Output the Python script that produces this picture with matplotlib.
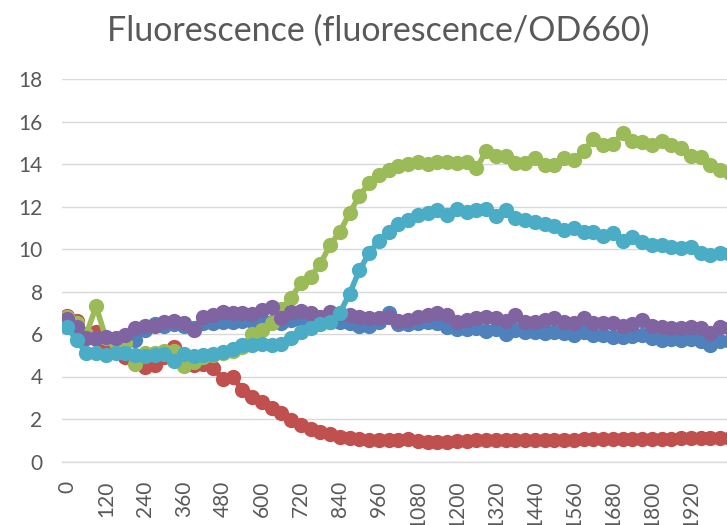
import numpy as np
import matplotlib
matplotlib.use("Agg")
import matplotlib.pyplot as plt

# time in minutes, one reading every 30 min
minutes = list(range(0, 2041, 30))
tick_labels = [str(m) for m in range(0, 1921, 120)]

series_1 = [6.6, 6.4, 5.8, 5.75, 5.7, 5.75, 5.75, 5.7, 6.2, 6.45,
            6.4, 6.45, 6.4, 6.3, 6.5, 6.5, 6.55, 6.55, 6.6, 6.6,
            6.6, 6.55, 6.5, 6.65, 6.65, 6.55, 6.55, 6.55, 6.55, 6.5,
            6.4, 6.4, 6.55, 7.0, 6.45, 6.45, 6.5, 6.55, 6.5, 6.35,
            6.25, 6.25, 6.3, 6.15, 6.25, 6.0, 6.2, 6.1, 6.1, 6.05,
            6.1, 6.05, 5.95, 6.1, 5.95, 5.95, 5.85, 5.87, 5.9, 5.95,
            5.8, 5.7, 5.75, 5.7, 5.75, 5.65, 5.5, 5.65, 5.65]
series_2 = [6.85, 6.6, 5.9, 6.1, 5.6, 5.4, 4.9, 4.9, 4.45, 4.55,
            4.9, 5.4, 4.7, 4.55, 4.6, 4.4, 3.9, 4.0, 3.35, 3.05,
            2.8, 2.5, 2.3, 1.95, 1.7, 1.55, 1.4, 1.3, 1.15, 1.1,
            1.05, 1.0, 1.0, 1.0, 1.0, 1.05, 0.95, 0.9, 0.9, 0.92,
            0.95, 0.95, 1.0, 1.0, 1.0, 1.0, 1.0, 1.0, 1.0, 1.02,
            1.02, 1.03, 1.03, 1.04, 1.04, 1.05, 1.05, 1.06, 1.06, 1.07,
            1.07, 1.08, 1.08, 1.09, 1.09, 1.1, 1.1, 1.1, 1.1]
series_3 = [6.8, 6.5, 6.0, 7.3, 5.8, 5.6, 5.6, 4.6, 5.1, 5.1,
            5.2, 5.2, 4.5, 4.7, 4.9, 5.0, 5.1, 5.2, 5.4, 6.0,
            6.2, 6.5, 7.2, 7.7, 8.4, 8.7, 9.3, 10.2, 10.8, 11.7,
            12.5, 13.1, 13.5, 13.7, 13.9, 14.0, 14.1, 14.0, 14.1, 14.1,
            14.05, 14.1, 13.8, 14.6, 14.4, 14.4, 14.05, 14.05, 14.3, 13.95,
            13.95, 14.3, 14.2, 14.6, 15.2, 14.9, 14.95, 15.45, 15.1, 15.05,
            14.9, 15.1, 14.9, 14.75, 14.4, 14.35, 13.95, 13.7, 13.6]
series_4 = [6.7, 6.35, 5.8, 5.8, 5.85, 5.8, 5.95, 6.3, 6.4, 6.4,
            6.55, 6.6, 6.5, 6.2, 6.8, 6.9, 7.05, 7.0, 7.0, 6.95,
            7.15, 7.25, 6.75, 7.05, 7.1, 7.0, 6.8, 7.05, 6.95, 6.9,
            6.8, 6.75, 6.75, 6.8, 6.6, 6.65, 6.8, 6.9, 7.0, 6.9,
            6.55, 6.65, 6.75, 6.8, 6.75, 6.6, 6.9, 6.57, 6.55, 6.65,
            6.75, 6.57, 6.5, 6.75, 6.5, 6.5, 6.5, 6.4, 6.45, 6.65,
            6.4, 6.35, 6.3, 6.3, 6.35, 6.3, 6.05, 6.35, 6.3]
series_5 = [6.35, 5.7, 5.1, 5.1, 5.0, 5.1, 5.1, 5.0, 4.95, 5.0,
            5.05, 4.75, 5.05, 4.95, 5.0, 5.05, 5.15, 5.3, 5.5, 5.5,
            5.55, 5.5, 5.55, 5.8, 6.1, 6.3, 6.45, 6.55, 7.0, 7.9,
            9.0, 9.8, 10.4, 10.8, 11.2, 11.35, 11.6, 11.7, 11.85, 11.6,
            11.9, 11.75, 11.85, 11.9, 11.55, 11.85, 11.45, 11.35, 11.25, 11.2,
            11.1, 10.9, 11.0, 10.8, 10.8, 10.6, 10.75, 10.4, 10.55, 10.35,
            10.2, 10.2, 10.1, 10.05, 10.1, 9.8, 9.7, 9.8, 9.75]

colors = ["#4F81BD", "#C0504D", "#9BBB59", "#8064A2", "#4BACC6"]
text_color = "#595959"

plt.rcParams["font.family"] = ["Lato", "DejaVu Sans"]

fig = plt.figure(figsize=(7.27, 5.25), dpi=100)
ax = fig.add_axes([62 / 727, 1 - 461.5 / 525, 1 - 62 / 727, (461.5 - 79) / 525])

for values, color in zip([series_1, series_2, series_3, series_4, series_5], colors):
    ax.plot(minutes, values, color=color, linewidth=4.0, marker="o",
            markersize=11, markeredgewidth=0)

ax.set_xlim(-15, 2031)
ax.set_ylim(0, 18)
ax.set_yticks(np.arange(0, 19, 2))
ax.set_xticks(range(0, 1921, 120))
ax.set_xticklabels(tick_labels, rotation=90)
ax.grid(axis="y", color="#D9D9D9", linewidth=1.0)
ax.set_axisbelow(True)
for side in ["top", "right", "left"]:
    ax.spines[side].set_visible(False)
ax.spines["bottom"].set_color("#D9D9D9")
ax.spines["bottom"].set_linewidth(1.0)
ax.tick_params(length=0, labelsize=15, labelcolor=text_color)
ax.tick_params(axis="y", pad=14)
ax.tick_params(axis="x", pad=14)

fig.text(378 / 727, 1 - 31 / 525, "Fluorescence (fluorescence/OD660)",
         ha="center", va="center", fontsize=24.5, color=text_color)

fig.savefig("out.png", dpi=100)
